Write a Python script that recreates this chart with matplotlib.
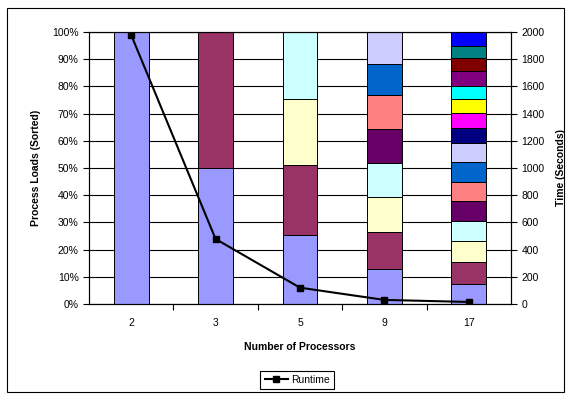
import matplotlib
matplotlib.use("Agg")
import matplotlib.pyplot as plt
from matplotlib.lines import Line2D
from matplotlib.patches import Rectangle

plt.rcParams['font.family'] = ['Liberation Sans', 'DejaVu Sans']
plt.rcParams['font.size'] = 7.5

# Datos (carga de cada proceso en %, de abajo hacia arriba)
processors = ['2', '3', '5', '9', '17']
loads_2 = [100]
loads_3 = [50.1, 49.9]
loads_5 = [25.4, 25.7, 24.4, 24.5]
loads_9 = [12.8, 13.8, 12.6, 12.7, 12.3, 12.5, 11.5, 11.8]
loads_17 = [7.35, 7.95, 7.85, 7.3, 7.5, 7.0, 7.1, 7.2,
            5.4, 5.4, 5.2, 5.0, 5.4, 4.9, 4.4, 5.05]
loads = [loads_2, loads_3, loads_5, loads_9, loads_17]
runtime = [1978, 478, 120, 30, 15]

# Paleta de Excel
colors = ['#9999FF', '#993366', '#FFFFCC', '#CCFFFF', '#660066', '#FF8080',
          '#0066CC', '#CCCCFF', '#000080', '#FF00FF', '#FFFF00', '#00FFFF',
          '#800080', '#800000', '#008080', '#0000FF']

fig = plt.figure(figsize=(5.71, 3.99), dpi=100)
fig.patches.append(Rectangle((7 / 571, 7 / 399), 557 / 571, 384 / 399,
                             transform=fig.transFigure, fill=False,
                             edgecolor='black', linewidth=0.8))

ax = fig.add_axes([89 / 571, 95 / 399, 422 / 571, 272 / 399])
ax.set_axisbelow(True)
ax.yaxis.grid(True, color='black', linewidth=0.8)

for i, segs in enumerate(loads):
    bottom = 0
    for j, v in enumerate(segs):
        ax.bar(i, v, bottom=bottom, width=0.41, color=colors[j],
               edgecolor='black', linewidth=0.7, zorder=2)
        bottom += v

ax.set_xlim(-0.5, len(processors) - 0.5)
ax.set_ylim(0, 100)
ax.set_yticks(range(0, 101, 10))
ax.set_yticklabels([f'{t}%' for t in range(0, 101, 10)])
ax.set_xticks(range(len(processors)))
ax.set_xticklabels(processors)
ax.set_xticks([k + 0.5 for k in range(len(processors) - 1)], minor=True)
ax.tick_params(axis='x', which='major', length=0, pad=10)
ax.tick_params(axis='x', which='minor', length=4, width=0.8, direction='out')
ax.tick_params(axis='y', length=4, width=0.8, direction='out')
ax.set_xlabel('Number of Processors', fontweight='bold', labelpad=10)
ax.set_ylabel('Process Loads (Sorted)', fontweight='bold', labelpad=8)
for s in ax.spines.values():
    s.set_linewidth(0.8)

ax2 = ax.twinx()
ax2.plot(range(len(processors)), runtime, color='black', linewidth=1.5,
         marker='s', markersize=4.5, zorder=5)
ax2.set_ylim(0, 2000)
ax2.set_yticks(range(0, 2001, 200))
ax2.tick_params(axis='y', length=4, width=0.8, direction='out')
ax2.set_ylabel('Time (Seconds)', fontweight='bold', labelpad=8)
for s in ax2.spines.values():
    s.set_linewidth(0.8)

handle = Line2D([], [], color='black', linewidth=1.5, marker='s', markersize=4.5)
leg = fig.legend([handle], ['Runtime'], loc='center',
                 bbox_to_anchor=(297 / 571, 19 / 399), fancybox=False,
                 edgecolor='black', framealpha=1, handlelength=2.2,
                 handletextpad=0.3, borderpad=0.4)
leg.get_frame().set_linewidth(0.8)

fig.savefig('out.png', dpi=100)
